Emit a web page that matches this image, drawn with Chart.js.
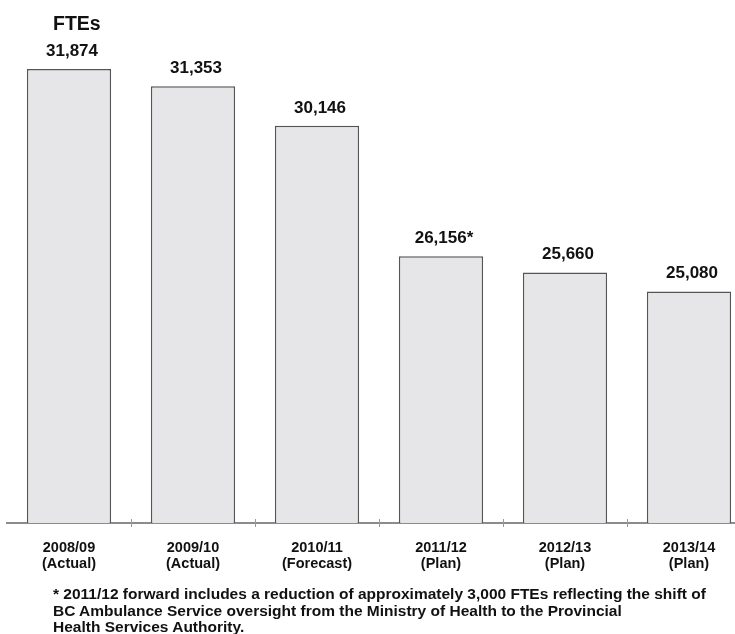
<!DOCTYPE html>
<html>
<head>
<meta charset="utf-8">
<script src="https://cdn.jsdelivr.net/npm/chart.js@4.4.1/dist/chart.umd.min.js"></script>
<style>
    html, body { margin: 0; padding: 0; background: #fff; }
    #wrap { position: relative; width: 735px; height: 634px; overflow: hidden; }
    #chart-box { position: absolute; left: 0; top: 0; width: 760px; height: 634px; }
    #unit { position: absolute; left: 53px; top: 12px; font: bold 19.5px "Liberation Sans", Arial, sans-serif; color: #111; }
    #note { position: absolute; left: 53px; top: 586px; width: 690px; font: bold 15.5px/16.5px "Liberation Sans", Arial, sans-serif; color: #111; white-space: nowrap; }
</style>
</head>
<body>
<div id="wrap">
    <div id="chart-box"><canvas id="fteChart" width="760" height="634"></canvas></div>
    <div id="unit">FTEs</div>
    <div id="note">* 2011/12 forward includes a reduction of approximately 3,000 FTEs reflecting the shift of<br>BC Ambulance Service oversight from the Ministry of Health to the Provincial<br>Health Services Authority.</div>
</div>
<script>
    // Años fiscales y tipo de cifra
    const years = ['2008/09', '2009/10', '2010/11', '2011/12', '2012/13', '2013/14'];
    const kinds = ['(Actual)', '(Actual)', '(Forecast)', '(Plan)', '(Plan)', '(Plan)'];
    // FTEs por año
    const ftes = [31874, 31353, 30146, 26156, 25660, 25080];
    const marks = ['', '', '', '*', '', ''];

    const FONT = '"Liberation Sans", Arial, sans-serif';

    // Etiquetas de valor encima de cada barra
    const valueLabels = {
        id: 'valueLabels',
        afterDatasetsDraw(chart) {
            const ctx = chart.ctx;
            const meta = chart.getDatasetMeta(0);
            ctx.save();
            ctx.font = 'bold 17px ' + FONT;
            ctx.fillStyle = '#111';
            ctx.textAlign = 'center';
            ctx.textBaseline = 'alphabetic';
            meta.data.forEach((bar, i) => {
                const text = ftes[i].toLocaleString('en-US') + marks[i];
                ctx.fillText(text, bar.x + 3, bar.y - 13);
            });
            ctx.restore();
        }
    };

    // Marcas pequeñas entre categorías sobre el eje
    const axisTicks = {
        id: 'axisTicks',
        afterDraw(chart) {
            const ctx = chart.ctx;
            const x = chart.scales.x;
            const y0 = chart.chartArea.bottom;
            ctx.save();
            ctx.strokeStyle = '#999';
            ctx.lineWidth = 1;
            for (let i = 1; i < years.length; i++) {
                const px = Math.round((x.getPixelForTick(i - 1) + x.getPixelForTick(i)) / 2) + 0.5;
                ctx.beginPath();
                ctx.moveTo(px, y0 - 4);
                ctx.lineTo(px, y0 + 4);
                ctx.stroke();
            }
            ctx.restore();
        }
    };

    new Chart(document.getElementById('fteChart').getContext('2d'), {
        type: 'bar',
        data: {
            labels: years.map((y, i) => [y, kinds[i]]),
            datasets: [{
                label: 'FTEs',
                data: ftes,
                backgroundColor: '#e6e6e8',
                borderColor: '#555',
                borderWidth: 1.5,
                barPercentage: 0.68,
                categoryPercentage: 1
            }]
        },
        options: {
            responsive: false,
            animation: false,
            layout: { padding: { left: 7, right: 9, top: 65, bottom: 0 } },
            plugins: {
                legend: { display: false },
                tooltip: { enabled: false }
            },
            scales: {
                y: {
                    display: false,
                    min: 18000,
                    max: 32000
                },
                x: {
                    afterFit(scale) { scale.height = 111; },
                    grid: { display: false },
                    border: { display: true, color: '#8c8c8c', width: 2 },
                    ticks: {
                        color: '#111',
                        padding: 9,
                        font: { family: FONT, size: 14.5, weight: 'bold', lineHeight: 1.1 }
                    }
                }
            }
        },
        plugins: [valueLabels, axisTicks]
    });
</script>
</body>
</html>
